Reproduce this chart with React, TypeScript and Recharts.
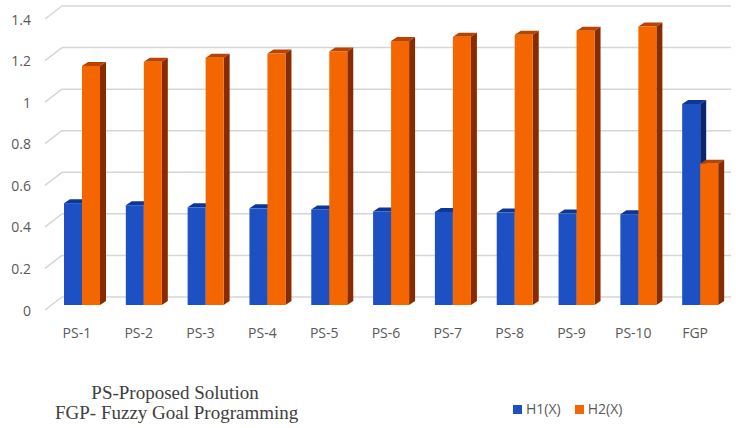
import { BarChart, Bar, XAxis, YAxis, CartesianGrid } from 'recharts';

// categories and values
const categories = ['PS-1', 'PS-2', 'PS-3', 'PS-4', 'PS-5', 'PS-6', 'PS-7', 'PS-8', 'PS-9', 'PS-10', 'FGP'];
const h1Values = [0.49, 0.48, 0.47, 0.465, 0.46, 0.45, 0.448, 0.445, 0.44, 0.437, 0.967];
const h2Values = [1.15, 1.17, 1.19, 1.21, 1.22, 1.27, 1.29, 1.3, 1.32, 1.34, 0.68];
const yTicks = [0, 0.2, 0.4, 0.6, 0.8, 1, 1.2, 1.4];
const noteLines = ['PS-Proposed Solution', 'FGP- Fuzzy Goal Programming'];

const data = categories.map((name, i) => ({ name, h1: h1Values[i], h2: h2Values[i] }));

const FONT = '"Open Sans", sans-serif';
const TEXT = '#595959';
const GRID = '#d6d6d6';

// 3D look: depth offsets of the side / top faces
const D = 6;
const DY = 4;

function make3DShape(front: string, top: string, side: string) {
  return (props: any) => {
    const { x, y, width: w, height: h } = props;
    if (!h) return <g />;
    return (
      <g>
        <polygon points={`${x},${y} ${x + D},${y - DY} ${x + w + D},${y - DY} ${x + w},${y}`} fill={top} />
        <polygon
          points={`${x + w},${y} ${x + w + D},${y - DY} ${x + w + D},${y + h - DY} ${x + w},${y + h}`}
          fill={side}
        />
        <rect x={x} y={y} width={w} height={h} fill={front} />
      </g>
    );
  };
}

const blueShape = make3DShape('#1d50c2', '#0d3696', '#0a2670');
const orangeShape = make3DShape('#f46600', '#b94300', '#882c00');

// back-wall gridline with the perspective stub on the side wall
const gridLine = (props: any) => {
  const y = props.y1;
  return (
    <g key={`grid-${y}`}>
      <line x1={45} y1={y + 5} x2={62} y2={y - 8} stroke={GRID} strokeWidth={1.5} />
      <line x1={62} y1={y - 8} x2={731} y2={y - 8} stroke={GRID} strokeWidth={1.5} />
    </g>
  );
};

const YTick = (props: any) => (
  <text
    x={31}
    y={props.y + 5}
    textAnchor="end"
    dominantBaseline="central"
    fontSize={14}
    fontFamily={FONT}
    fill={TEXT}
  >
    {props.payload.value}
  </text>
);

const XTick = (props: any) => (
  <text
    x={props.x - 5}
    y={props.y + 19}
    textAnchor="middle"
    dominantBaseline="central"
    fontSize={14}
    fontFamily={FONT}
    fill={TEXT}
  >
    {props.payload.value}
  </text>
);

export default function App() {
  return (
    <div style={{ position: 'absolute', left: 0, top: 0, width: 736, height: 428, background: '#fff' }}>
      <BarChart
        width={736}
        height={428}
        data={data}
        margin={{ top: 14, right: 5, left: 1, bottom: 93 }}
        barGap={0}
        barSize={18}
      >
        <CartesianGrid vertical={false} horizontal={gridLine} />
        <XAxis dataKey="name" axisLine={false} tickLine={false} height={30} tick={XTick} interval={0} />
        <YAxis
          domain={[0, 1.4]}
          ticks={yTicks}
          axisLine={false}
          tickLine={false}
          width={50}
          tick={YTick}
          interval={0}
        />
        <Bar dataKey="h1" name="H1(X)" fill="#1d50c2" shape={blueShape} isAnimationActive={false} />
        <Bar dataKey="h2" name="H2(X)" fill="#f46600" shape={orangeShape} isAnimationActive={false} />
      </BarChart>

      <div
        style={{
          position: 'absolute',
          left: 55,
          top: 383,
          width: 240,
          textAlign: 'center',
          fontFamily: '"Liberation Serif", "Times New Roman", serif',
          fontSize: 19,
          lineHeight: '20px',
          color: '#404040',
        }}
      >
        {noteLines.map((l) => (
          <div key={l} style={{ whiteSpace: 'nowrap' }}>{l}</div>
        ))}
      </div>

      <div
        style={{
          position: 'absolute',
          left: 513,
          top: 400,
          display: 'flex',
          alignItems: 'center',
          fontFamily: FONT,
          fontSize: 14,
          color: TEXT,
          lineHeight: '18px',
        }}
      >
        <span style={{ width: 9, height: 9, background: '#1d50c2', marginRight: 4 }} />
        <span style={{ marginRight: 14 }}>H1(X)</span>
        <span style={{ width: 9, height: 9, background: '#f46600', marginRight: 4 }} />
        <span>H2(X)</span>
      </div>
    </div>
  );
}
